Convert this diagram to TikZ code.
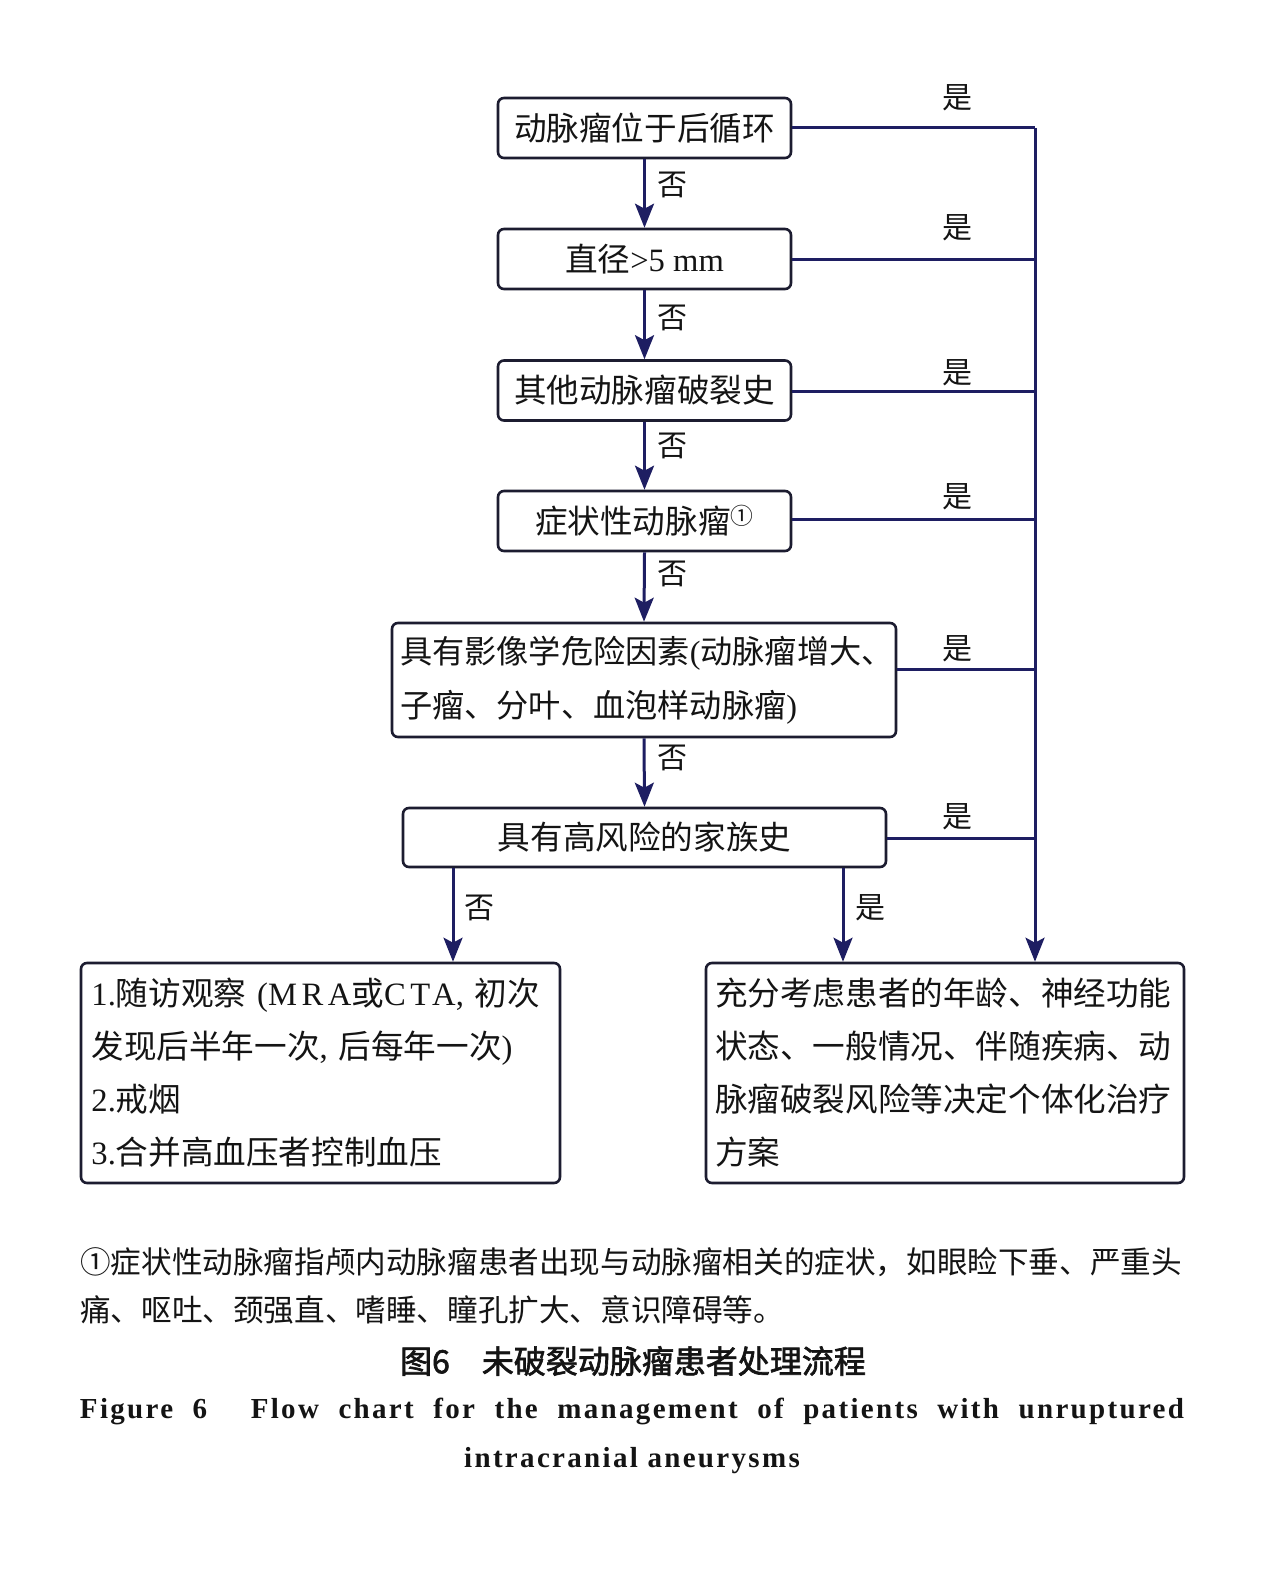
\documentclass[tikz,border=0pt]{standalone}
\usepackage{fontspec}
\setmainfont{Noto Sans CJK SC}
\newfontfamily\tm{Liberation Serif}
\newfontfamily\tmsp[LetterSpace=14]{Liberation Serif}
\newfontfamily\tmb[LetterSpace=8]{Liberation Serif}
\newfontfamily\cjkbold[FakeBold=2]{Noto Sans CJK SC}
\usetikzlibrary{arrows.meta}
\definecolor{navy}{RGB}{30,30,98}
\definecolor{frame}{RGB}{28,28,48}
\definecolor{ink}{RGB}{20,20,20}
\tikzset{
  box/.style={draw=frame, line width=2.6bp, rounded corners=6bp, align=center,
    text=ink, font=\fontsize{32.6bp}{53bp}\selectfont, inner sep=0pt},
  conn/.style={draw=navy, line width=3bp},
  arr/.style={conn, -{Stealth[length=24bp,width=19bp,inset=5bp]}},
  lbl/.style={font=\fontsize{30bp}{30bp}\selectfont, inner sep=0pt, text=ink},
  note/.style={font=\fontsize{30.6bp}{30.6bp}\selectfont, inner sep=0pt, text=ink, anchor=west},
}
\begin{document}
\begin{tikzpicture}[x=1bp,y=-1bp]
\fill[white] (0,0) rectangle (1284,1576);
\useasboundingbox (0,0) rectangle (1284,1576);

% decision boxes
\node[box, minimum width=293bp, minimum height=60bp] (b1) at (644.5,128) {动脉瘤位于后循环};
\node[box, minimum width=293bp, minimum height=60bp] (b2) at (644.5,259) {直径{\tm >5 mm}};
\node[box, minimum width=293bp, minimum height=60bp] (b3) at (644.5,390.5) {其他动脉瘤破裂史};
\node[box, minimum width=293bp, minimum height=60bp] (b4) at (644.5,521) {症状性动脉瘤\textsuperscript{①}};
\node[box, minimum width=504bp, minimum height=114bp, text width=488bp, align=left,
      font=\fontsize{32.2bp}{54bp}\selectfont] (b5) at (644,680)
  {具有影像学危险因素{\tm(}动脉瘤增大、\\子瘤、分叶、血泡样动脉瘤{\tm)}};
\node[box, minimum width=483bp, minimum height=59bp] (b6) at (644.5,837.5) {具有高风险的家族史};

% outcome boxes
\node[box, minimum width=479bp, minimum height=220bp, text width=458bp, align=left] (b7) at (320.5,1073)
  {{\tm 1.}随访观察{\tm\ (}{\tmsp MRA}或{\tmsp CTA}{\tm , }初次\\
   发现后半年一次{\tm , }后每年一次{\tm )}\\
   {\tm 2.}戒烟\\
   {\tm 3.}合并高血压者控制血压};
\node[box, minimum width=478bp, minimum height=220bp, text width=460bp, align=left] (b8) at (945,1073)
  {充分考虑患者的年龄、神经功能\\
   状态、一般情况、伴随疾病、动\\
   脉瘤破裂风险等决定个体化治疗\\
   方案};

% spine coordinates
\coordinate (s1) at (1035,128);
\coordinate (s2) at (1035,259);
\coordinate (s3) at (1035,391);
\coordinate (s4) at (1035,519);
\coordinate (s5) at (1035,669);
\coordinate (s6) at (1035,838);
\coordinate (xl) at (453,900);
\coordinate (xr) at (843,900);

% "no" arrows
\draw[arr] (b1.south) -- (b2.north);
\draw[arr] (b2.south) -- (b3.north);
\draw[arr] (b3.south) -- (b4.north);
\draw[arr] (b4.south) -- (b5.north);
\draw[arr] (b5.south) -- (b6.north);
\draw[arr] (b6.south -| xl) -- (b7.north -| xl);
\draw[arr] (b6.south -| xr) -- (b8.north -| xr);

% "yes" lines
\draw[conn] (b1.east) -- (s1);
\draw[conn] (b2.east) -- (s2);
\draw[conn] (b3.east |- s3) -- (s3);
\draw[conn] (b4.east |- s4) -- (s4);
\draw[conn] (b5.east |- s5) -- (s5);
\draw[conn] (b6.east |- s6) -- (s6);
\draw[arr] (s1) -- (b8.north -| s1);

% labels
\node[lbl] (n1) at (672,185) {否};
\node[lbl] (n2) at (672,318) {否};
\node[lbl] (n3) at (672,446) {否};
\node[lbl] (n4) at (672,574) {否};
\node[lbl] (n5) at (672,758) {否};
\node[lbl] (n6) at (479,908) {否};
\node[lbl] (y1) at (957,98) {是};
\node[lbl] (y2) at (957,228) {是};
\node[lbl] (y3) at (957,373) {是};
\node[lbl] (y4) at (957,497) {是};
\node[lbl] (y5) at (957,649) {是};
\node[lbl] (y6) at (957,817) {是};
\node[lbl] (y7) at (870,908) {是};

% footnote
\node[note] (f1) at (80,1262) {①症状性动脉瘤指颅内动脉瘤患者出现与动脉瘤相关的症状，如眼睑下垂、严重头};
\node[note] (f2) at (80,1310) {痛、呕吐、颈强直、嗜睡、瞳孔扩大、意识障碍等。};

% caption
\node[inner sep=0pt, text=ink, font=\cjkbold\fontsize{32bp}{32bp}\selectfont] (c1) at (633,1361)
  {图6\hspace{32bp}未破裂动脉瘤患者处理流程};
\node[inner sep=0pt, text=ink, font=\tmb\bfseries\fontsize{29bp}{29bp}\selectfont] (c2) at (632,1411)
  {\makebox[1104bp][s]{Figure 6\hspace{24bp} Flow chart for the management of patients with unruptured}};
\node[inner sep=0pt, text=ink, font=\tmb\bfseries\fontsize{29bp}{29bp}\selectfont] (c3) at (632,1461)
  {intracranial aneurysms};
\end{tikzpicture}
\end{document}
